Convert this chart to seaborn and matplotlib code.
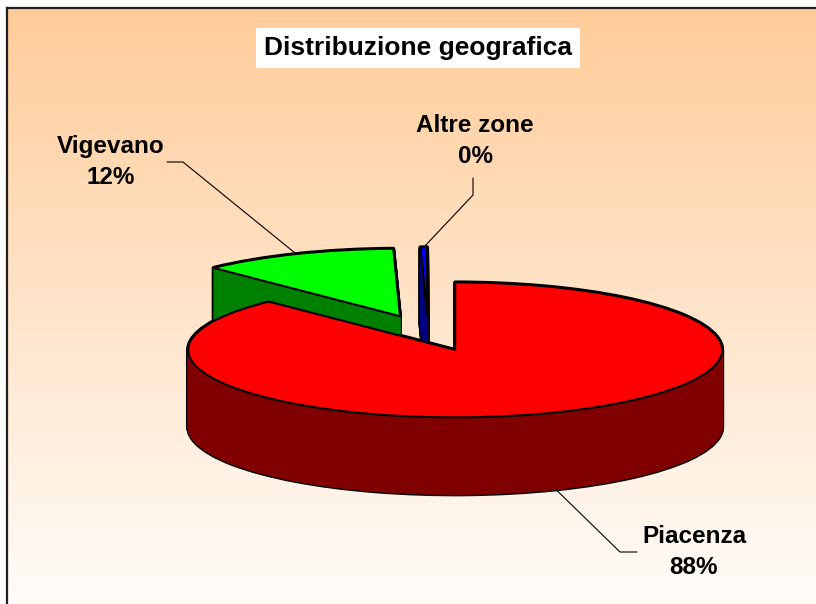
import numpy as np
import matplotlib.pyplot as plt
import seaborn as sns
from matplotlib.colors import LinearSegmentedColormap

# dati
zone = ['Piacenza', 'Vigevano', 'Altre zone']
quota = [87.7, 11.9, 0.4]
etichette = ['88%', '12%', '0%']
col_top = ['#FF0000', '#00FF00', '#0000FF']
col_side = ['#800000', '#008000', '#000080']

sns.set_theme(style='white')
plt.rcParams['font.family'] = ['Liberation Sans', 'DejaVu Sans']

W, H = 816, 604
fig = plt.figure(figsize=(W / 100, H / 100), dpi=100)

# sfondo sfumato con cornice
bg = fig.add_axes([7 / W, -0.02, 1.0, (H - 8) / H + 0.02])
cmap = LinearSegmentedColormap.from_list('pesca', ['#FFCC99', '#FFFDFB'])
bg.imshow(np.linspace(0, 1, 256).reshape(-1, 1), aspect='auto', cmap=cmap,
          extent=[0, 1, 0, 1], origin='upper')
bg.set_xticks([])
bg.set_yticks([])
for s in bg.spines.values():
    s.set_color('#202020')
    s.set_linewidth(1.6)

# torta 3D (ellisse schiacciata + strati per lo spessore)
ax = fig.add_axes([0, 0, 1, 1])
cx, cy, rx, ry = 428, 333, 267, 67.5
depth = 77 / ry
explode = [0.27, 0.27, 0.27]
kw = dict(startangle=90, counterclock=False, explode=explode)

livelli = np.linspace(depth, 0, 70)
# prima passata: solo contorno nero
for d in livelli:
    ax.pie(quota, colors=['black'] * 3, center=(0, -d),
           wedgeprops=dict(edgecolor='black', linewidth=2.8, joinstyle='round'), **kw)
# seconda passata: fianchi scuri
for d in livelli:
    fianchi, _ = ax.pie(quota, colors=col_side, center=(0, -d), **kw)
    for f, c in zip(fianchi, col_side):
        f.set_edgecolor(c)
        f.set_linewidth(0.8)
# faccia superiore
wedges, _ = ax.pie(quota, colors=col_top, center=(0, 0), **kw)
for w in wedges:
    w.set_edgecolor('black')
    w.set_linewidth(1.5)
    w.set_joinstyle('round')

ax.set_aspect('auto')
ax.set_xlim(-cx / rx, (W - cx) / rx)
ax.set_ylim((cy - H) / ry, cy / ry)
ax.axis('off')

# etichette con linee guida (coordinate in pixel dell'immagine)
pos_etichette = [(694, 552), (111, 162), (475, 141)]
gomiti = [[(637, 552), (620, 552)], [(167, 162), (183, 162)], [(473, 178), (473, 195)]]
inv = ax.transData.inverted()
for w, nome, perc, (lx, ly), gom in zip(wedges, zone, etichette, pos_etichette, gomiti):
    mid = np.deg2rad((w.theta1 + w.theta2) / 2)
    axx = w.center[0] + w.r * np.cos(mid)
    axy = w.center[1] + w.r * np.sin(mid)
    if np.sin(mid) < 0:
        axy -= depth
    pts = [inv.transform((px, H - py)) for px, py in gom] + [(axx, axy)]
    pts = np.array(pts)
    ax.plot(pts[:, 0], pts[:, 1], color='black', linewidth=0.8, clip_on=False)
    fig.text(lx / W, 1 - ly / H, f'{nome}\n{perc}', ha='center', va='center',
             ma='center', fontsize=17.5, fontweight='bold', linespacing=1.45,
             color='black')

fig.text(418 / W, 1 - 48 / H, 'Distribuzione geografica', ha='center', va='center',
         fontsize=19, fontweight='bold', color='black',
         bbox=dict(facecolor='white', edgecolor='none', boxstyle='square,pad=0.3'))

fig.savefig('out.png', dpi=100)
